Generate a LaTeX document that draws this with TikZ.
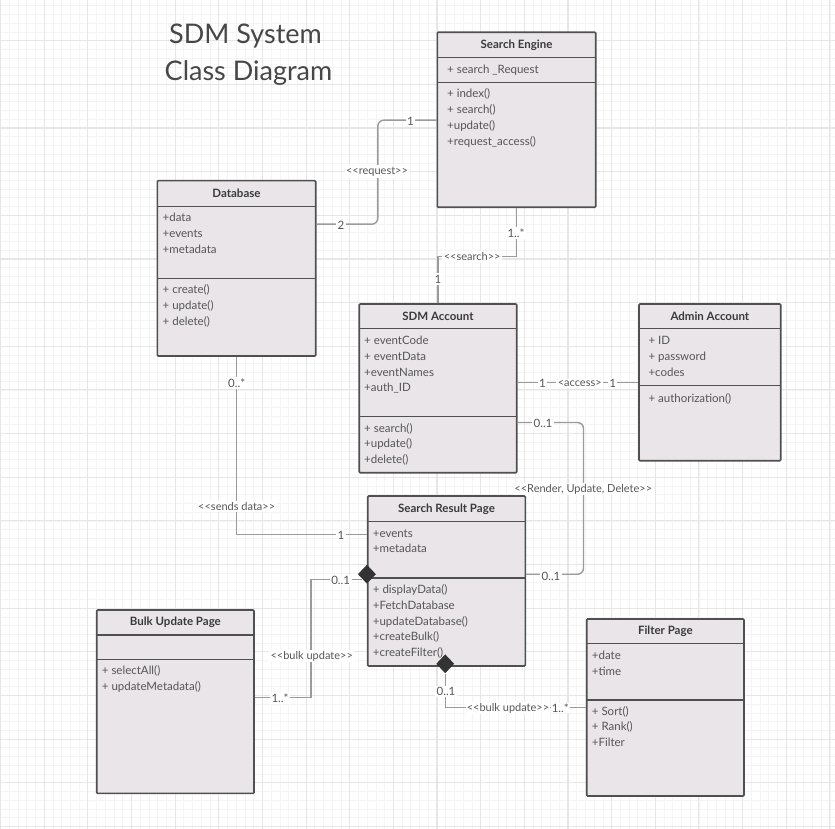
\documentclass[tikz,border=0pt]{standalone}
\usepackage{fontspec}
\setmainfont{Lato}[Ligatures=TeXOff]
\usetikzlibrary{shapes.geometric}
\definecolor{gridlight}{HTML}{F4F4F4}
\definecolor{griddark}{HTML}{E6E6E6}
\definecolor{boxfill}{HTML}{E9E5E9}
\definecolor{boxline}{HTML}{505050}
\definecolor{wiregrey}{HTML}{9B9B9B}
\definecolor{txtgrey}{HTML}{565656}
\definecolor{headgrey}{HTML}{3A3A3A}
\definecolor{titlegrey}{HTML}{474747}

\tikzset{
  classbox/.style={draw=boxline, fill=boxfill, line width=1.6pt, inner sep=0pt, rounded corners=1pt},
  classrule/.style={draw=boxline, line width=1.4pt},
  classtitle/.style={text=headgrey, font=\fontsize{11.5}{13}\selectfont\bfseries},
  member/.style={anchor=west, inner sep=0pt, text=txtgrey, text height=8pt, text depth=2.5pt, font=\fontsize{11.5}{13}\selectfont},
  wire/.style={draw=wiregrey, line width=1.4pt},
  mult/.style={fill=white, inner sep=1.5pt, text=txtgrey, font=\fontsize{11.5}{13}\selectfont},
  stereo/.style={fill=white, inner sep=1.5pt, text=txtgrey, font=\fontsize{11}{13}\selectfont},
  compose/.style={diamond, fill=black!80, draw=none, minimum width=18pt, minimum height=19pt, inner sep=0pt},
}

% name, left, top, right, bottom, header line, member line, title
\newcommand{\umlclass}[8]{%
  \node[classbox, minimum width={#4-#2}, minimum height={#5-#3}] (#1) at ({(#2+#4)/2},{(#3+#5)/2}) {};
  \draw[classrule] (#2,#6) -- (#4,#6);
  \draw[classrule] (#2,#7) -- (#4,#7);
  \node[classtitle] (#1-title) at ({(#2+#4)/2},{(#3+#6)/2}) {#8};
}

\begin{document}
\begin{tikzpicture}[x=1pt, y=-1pt]

\useasboundingbox (0,0) rectangle (835,829);
\fill[white] (0,0) rectangle (835,829);

%grid paper
\foreach \k in {0,...,96} {
  \draw[gridlight, line width=0.7pt] ({0.5+8.73*\k},0) -- ++(0,829);
  \draw[gridlight, line width=0.7pt] (0,{-2.95+8.73*\k}) -- ++(835,0);
}
\foreach \k in {0,...,19} {
  \draw[griddark, line width=1.1pt] ({0.5+43.65*\k},0) -- ++(0,829);
  \draw[griddark, line width=1.1pt] (0,{-2.95+43.65*\k}) -- ++(835,0);
}

% title
\node[text=titlegrey, font=\fontsize{27}{32}\selectfont] (title1) at (245.5,36) {SDM System};
\node[text=titlegrey, font=\fontsize{27}{32}\selectfont] (title2) at (248.5,73) {Class Diagram};

% Search Engine
\umlclass{se}{437.3}{32.3}{595.7}{207.3}{57.7}{82.7}{Search Engine}
\node[member] (se-a1) at (447,71) {+ search \_Request};
\foreach \txt [count=\i] in {+ index(), + search(), +update(), +request\_access()}
  \node[member] (se-m\i) at (447,{79.3+15.9*\i}) {\txt};

% Database
\umlclass{db}{157.3}{180.7}{315.7}{356}{206.7}{278.3}{Database}
\foreach \txt [count=\i] in {+data, +events, +metadata}
  \node[member] (db-a\i) at (162.5,{203.2+15.8*\i}) {\txt};
\foreach \txt [count=\i] in {+ create(), + update(), + delete()}
  \node[member] (db-m\i) at (162.5,{275.3+15.7*\i}) {\txt};

% SDM Account
\umlclass{sdm}{359.2}{304}{516.7}{472.7}{328.3}{416.7}{SDM Account}
\foreach \txt [count=\i] in {+ eventCode, + eventData, +eventNames, +auth\_ID}
  \node[member] (sdm-a\i) at (364,{325.9+15.8*\i}) {\txt};
\foreach \txt [count=\i] in {+ search(), +update(), +delete()}
  \node[member] (sdm-m\i) at (364,{413.6+15.7*\i}) {\txt};

% Admin Account
\umlclass{admin}{639}{304}{780.7}{460.7}{328.3}{385.7}{Admin Account}
\foreach \txt [count=\i] in {+ ID, + password, +codes}
  \node[member] (admin-a\i) at (648.3,{325.9+16*\i}) {\txt};
\node[member] (admin-m1) at (648.3,399.3) {+ authorization()};

% Search Result Page
\umlclass{srp}{367.7}{496}{525.3}{666}{521.7}{578}{Search Result Page}
\foreach \txt [count=\i] in {+events, +metadata}
  \node[member] (srp-a\i) at (372.7,{518.5+15.8*\i}) {\txt};
\foreach \txt [count=\i] in {+ displayData(), +FetchDatabase, +updateDatabase(), +createBulk(), +createFilter()}
  \node[member] (srp-m\i) at (372.7,{575+15.8*\i}) {\txt};

% Bulk Update Page
\umlclass{bulk}{96.7}{610}{254}{793.4}{635}{659.3}{Bulk Update Page}
\foreach \txt [count=\i] in {+ selectAll(), + updateMetadata()}
  \node[member] (bulk-m\i) at (101.7,{656+15.7*\i}) {\txt};

% Filter Page
\umlclass{filter}{586.7}{619}{744}{796}{643.3}{700}{Filter Page}
\foreach \txt [count=\i] in {+date, +time}
  \node[member] (filter-a\i) at (591.7,{641+15.7*\i}) {\txt};
\foreach \txt [count=\i] in {+ Sort(), + Rank(), +Filter}
  \node[member] (filter-m\i) at (591.7,{696.5+15.8*\i}) {\txt};

%composition diamonds
\node[compose] (srp-dia1) at ([yshift=-79pt]srp.north west) {};
\node[compose] (srp-dia2) at ([xshift=78.3pt, yshift=3pt]srp.south west) {};

% request
\draw[wire, rounded corners=6pt] ([yshift=-44.3pt]db.north east) -- ++(61.3,0) |- ([yshift=-88.7pt]se.north west);
\node[mult] (req-db) at (341,225.5) {2};
\node[mult] (req-se) at (410.5,121) {1};
\node[stereo] (req-label) at (377,171.5) {<<request>>};

% search
\draw[wire] (se.south) -- ++(0,48.5) -| (sdm.north);
\node[mult] (srch-se) at (516,233) {1..*};
\node[stereo] (srch-label) at (472.2,256.5) {<<search>>};
\node[mult] (srch-sdm) at (437.9,279) {1};

% access
\draw[wire] ([yshift=-79.3pt]sdm.north east) -- ([yshift=-79.3pt]admin.north west);
\node[mult] (acc-sdm) at (542.5,383.8) {1};
\node[stereo] (acc-label) at (579.7,383.6) {<access>};
\node[mult] (acc-admin) at (612.6,383.8) {1};

% render, update, delete
\draw[wire, rounded corners=6pt] ([yshift=-119.3pt]sdm.north east) -- ++(66,0) |- ([yshift=-79pt]srp.north east);
\node[mult] (rud-sdm) at (543,423.3) {0..1};
\node[stereo] (rud-label) at (583.3,489) {<<Render, Update, Delete>>};
\node[mult] (rud-srp) at (551,576.5) {0..1};

% sends data
\draw[wire] (db.south) |- ([yshift=-39.5pt]srp.north west);
\node[mult] (send-db) at (236.7,383.3) {0..*};
\node[stereo] (send-label) at (236.7,506.7) {<<sends data>>};
\node[mult] (send-srp) at (341,535.7) {1};

% bulk update to bulk page
\draw[wire] ([xshift=-4.5pt, yshift=-5pt]srp-dia1.center) -- ++(-51.5,0) |- ([yshift=-88.3pt]bulk.north east);
\node[mult] (bu-srp) at (340.7,580.5) {0..1};
\node[stereo] (bu-label) at (311.7,656) {<<bulk update>>};
\node[mult] (bu-bulk) at (280,698.3) {1..*};

% bulk update to filter page
\draw[wire] (srp-dia2.south) |- ([yshift=-89pt]filter.north west);
\node[mult] (fp-srp) at (446,691.5) {0..1};
\node[stereo, inner sep=0.8pt] (fp-label) at (508,708) {<<bulk update>>};
\node[mult, inner sep=0.8pt] (fp-filter) at (560.3,708) {1..*};

\end{tikzpicture}
\end{document}
